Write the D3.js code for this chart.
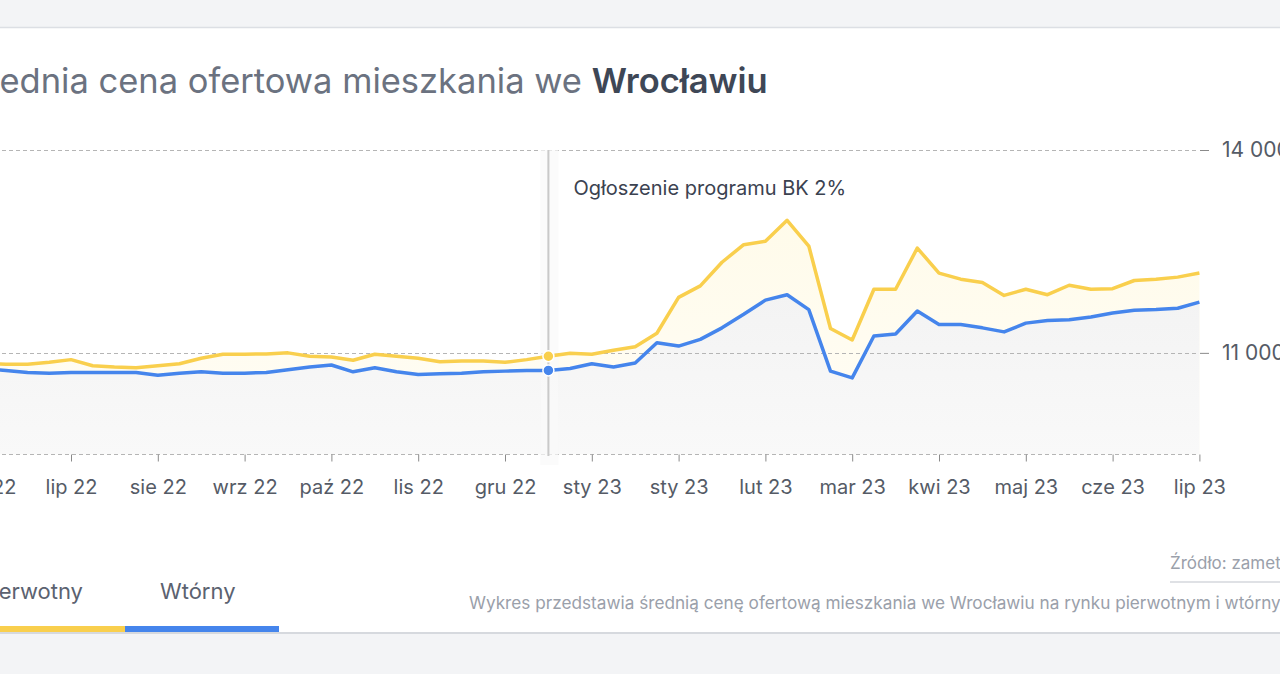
<!DOCTYPE html>
<html>
<head>
<meta charset="utf-8">
<script src="https://cdn.jsdelivr.net/npm/d3@7"></script>
<style>
  html, body { margin: 0; padding: 0; background: #f3f4f6; overflow: hidden; }
  svg { display: block; font-family: Inter, "Noto Sans", sans-serif; }
</style>
</head>
<body>
<svg id="chart" width="1280" height="674"></svg>
<script>
// ---- data (weekly points, index 0 = last week of June 2022) ----
const tickIndex = [0, 4, 8, 12, 16, 20, 24, 28, 32, 36, 40, 44, 48, 52, 56];
const tickLabels = ["cze 22", "lip 22", "sie 22", "wrz 22", "paź 22", "lis 22", "gru 22",
  "sty 23", "sty 23", "lut 23", "mar 23", "kwi 23", "maj 23", "cze 23", "lip 23"];
const pierwotny = [10850, 10830, 10830, 10860, 10900, 10810, 10790, 10780, 10810, 10840,
  10920, 10980, 10980, 10985, 11000, 10950, 10940, 10890, 10980, 10950,
  10920, 10870, 10880, 10880, 10860, 10900, 10950, 10995, 10980, 11040,
  11090, 11290, 11820, 11990, 12340, 12600, 12650, 12960, 12580, 11360,
  11190, 11940, 11940, 12550, 12180, 12090, 12040, 11850, 11940, 11860,
  12000, 11940, 11950, 12070, 12090, 12120, 12180];
const wtorny = [10770, 10740, 10710, 10700, 10710, 10710, 10710, 10710, 10670, 10700,
  10720, 10700, 10700, 10710, 10750, 10790, 10820, 10720, 10780, 10720,
  10680, 10690, 10700, 10720, 10730, 10740, 10740, 10770, 10840, 10790,
  10850, 11150, 11100, 11200, 11370, 11570, 11780, 11860, 11640, 10730,
  10630, 11250, 11280, 11620, 11420, 11420, 11370, 11310, 11440, 11480,
  11490, 11530, 11590, 11630, 11640, 11660, 11750];
const yTicks = [11000, 14000];
const yGrid = [9500, 11000, 14000];
const yDomain = [9500, 14000];
const eventIndex = 26;
const eventLabel = "Ogłoszenie programu BK 2%";
const seriesNames = ["Pierwotny", "Wtórny"];
const titleLight = "Średnia cena ofertowa mieszkania we ";
const titleBold = "Wrocławiu";
const sourceText = "Źródło: zametr.pl";
const noteText = "Wykres przedstawia średnią cenę ofertową mieszkania we Wrocławiu na rynku pierwotnym i wtórnym";

// ---- colours ----
const YELLOW = "#f9cf4d", BLUE = "#4585ec";

const svg = d3.select("#chart");

// card
svg.append("rect").attr("x", -10).attr("y", 27).attr("width", 1300).attr("height", 606)
  .attr("fill", "#ffffff");
svg.append("line").attr("x1", 0).attr("x2", 1280).attr("y1", 27.5).attr("y2", 27.5)
  .attr("stroke", "#dcdfe4").attr("stroke-width", 1.5);
svg.append("line").attr("x1", 0).attr("x2", 1280).attr("y1", 633).attr("y2", 633)
  .attr("stroke", "#d6d9de").attr("stroke-width", 2);

// title (left part is cut by the viewport, as in the reference)
const TITLE_SIZE = 34.5;
const title = svg.append("text").attr("y", 93).attr("font-size", TITLE_SIZE).attr("fill", "#6b7280");
title.append("tspan").text(titleLight);
title.append("tspan").attr("font-weight", 600).attr("fill", "#3e4756").text(titleBold);
const probe = svg.append("text").attr("font-size", TITLE_SIZE).text("Śr");
const cut = probe.node().getComputedTextLength();
probe.remove();
title.attr("x", -cut);

// scales
const x = d3.scaleLinear().domain([0, pierwotny.length - 1]).range([-15.8, 1199.4]);
const y = d3.scaleLinear().domain(yDomain).range([454.3, 150]);

// gradients
const defs = svg.append("defs");
const gY = defs.append("linearGradient").attr("id", "gy").attr("x1", 0).attr("x2", 0).attr("y1", 0).attr("y2", 1);
gY.append("stop").attr("offset", "0%").attr("stop-color", "#fffbea");
gY.append("stop").attr("offset", "100%").attr("stop-color", "#fffdf6");
const gB = defs.append("linearGradient").attr("id", "gb").attr("x1", 0).attr("x2", 0).attr("y1", 0).attr("y2", 1);
gB.append("stop").attr("offset", "0%").attr("stop-color", "#f3f3f3");
gB.append("stop").attr("offset", "100%").attr("stop-color", "#f9f9f9");

// areas
const areaY = d3.area().x((d, i) => x(i)).y0(y(yDomain[0])).y1(d => y(d));
svg.append("path").datum(pierwotny).attr("d", areaY).attr("fill", "url(#gy)");
svg.append("path").datum(wtorny).attr("d", areaY).attr("fill", "url(#gb)");

// grid
svg.append("g").selectAll("line").data(yGrid).join("line")
  .attr("x1", -40).attr("x2", 1198)
  .attr("y1", d => Math.round(y(d)) + 0.5).attr("y2", d => Math.round(y(d)) + 0.5)
  .attr("stroke", "#b5b5b5").attr("stroke-width", 1).attr("stroke-dasharray", "4,3");

// event vertical line
svg.append("rect").attr("x", x(eventIndex) - 8).attr("y", 150).attr("width", 18).attr("height", 315)
  .attr("fill", "#fafafa").attr("opacity", 0.7);
svg.append("line").attr("x1", x(eventIndex)).attr("x2", x(eventIndex))
  .attr("y1", 150).attr("y2", 456).attr("stroke", "#c9c9c9").attr("stroke-width", 2);
svg.append("text").attr("x", x(eventIndex) + 25).attr("y", 195)
  .attr("font-size", 20).attr("fill", "#3b4250").text(eventLabel);

// lines
const line = d3.line().x((d, i) => x(i)).y(d => y(d));
svg.append("path").datum(pierwotny).attr("d", line).attr("fill", "none")
  .attr("stroke", YELLOW).attr("stroke-width", 3.5).attr("stroke-linejoin", "round");
svg.append("path").datum(wtorny).attr("d", line).attr("fill", "none")
  .attr("stroke", BLUE).attr("stroke-width", 3.5).attr("stroke-linejoin", "round");

// event dots
[[pierwotny, YELLOW], [wtorny, BLUE]].forEach(([s, c]) => {
  svg.append("circle").attr("cx", x(eventIndex)).attr("cy", y(s[eventIndex])).attr("r", 5.5)
    .attr("fill", c).attr("stroke", "#fff").attr("stroke-width", 1.5);
});

// x axis
const xAxis = d3.axisBottom(x).tickValues(tickIndex)
  .tickFormat((d, i) => tickLabels[i]).tickSize(7).tickPadding(18);
const gx = svg.append("g").attr("transform", `translate(0,${Math.round(y(yDomain[0])) + 0.5})`).call(xAxis);
gx.select(".domain").remove();
gx.selectAll(".tick line").attr("stroke", "#8a8a8a");
gx.selectAll(".tick text").attr("font-size", 20).attr("fill", "#555b66").attr("font-family", "Inter");

// y axis (right)
const fmt = d => d3.format(",")(d).replace(/,/g, " ");
const yAxis = d3.axisRight(y).tickValues(yTicks).tickFormat(fmt).tickSize(9).tickPadding(13);
const gyAx = svg.append("g").attr("transform", "translate(1200,0)").call(yAxis);
gyAx.select(".domain").remove();
gyAx.selectAll(".tick line").attr("stroke", "#8a8a8a");
gyAx.selectAll(".tick text").attr("font-size", 21).attr("fill", "#555b66").attr("font-family", "Inter");

// legend tabs
svg.append("rect").attr("x", -60).attr("y", 626).attr("width", 185).attr("height", 6).attr("fill", YELLOW);
svg.append("rect").attr("x", 125).attr("y", 626).attr("width", 154).attr("height", 6).attr("fill", BLUE);
svg.append("text").attr("x", 83).attr("y", 599).attr("text-anchor", "end")
  .attr("font-size", 22).attr("fill", "#5b6270").text(seriesNames[0]);
svg.append("text").attr("x", 160).attr("y", 599)
  .attr("font-size", 22).attr("fill", "#5b6270").text(seriesNames[1]);

// footnotes
svg.append("text").attr("x", 1170).attr("y", 569).attr("font-size", 17).attr("fill", "#9aa0aa").text(sourceText);
svg.append("line").attr("x1", 1170).attr("x2", 1290).attr("y1", 582).attr("y2", 582)
  .attr("stroke", "#d4d7dc").attr("stroke-width", 1.5);
svg.append("text").attr("x", 469).attr("y", 609).attr("font-size", 17.2).attr("fill", "#9aa0aa").text(noteText);
</script>
</body>
</html>
